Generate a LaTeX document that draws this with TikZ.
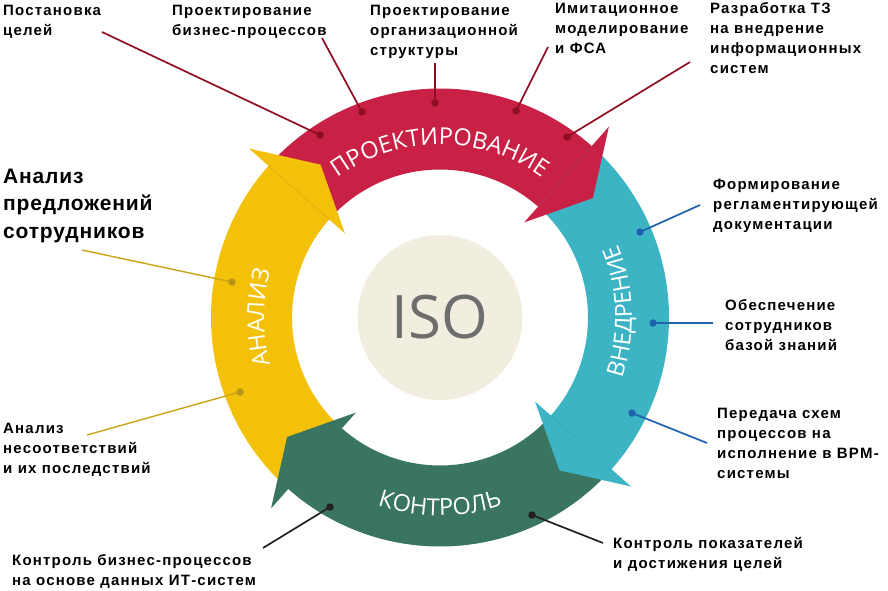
\documentclass[tikz,border=0pt]{standalone}
\usepackage{fontspec}
\setmainfont{Liberation Sans}
\newfontfamily\lblfont[LetterSpace=8]{Liberation Sans}
\newfontfamily\bigfont[LetterSpace=4]{Liberation Sans}
\newfontfamily\bandfont{Open Sans}
\usetikzlibrary{decorations.text}
\definecolor{cRed}{HTML}{C92146}
\definecolor{cTeal}{HTML}{3CB4C4}
\definecolor{cGrn}{HTML}{3A7562}
\definecolor{cYel}{HTML}{F4C10A}
\definecolor{isoBg}{HTML}{F2EEDF}
\definecolor{isoTx}{HTML}{6E6E6E}
\definecolor{lnRed}{HTML}{8F0F22}
\definecolor{lnBlue}{HTML}{1F63AE}
\definecolor{lnBlk}{HTML}{222222}
\definecolor{lnYel}{HTML}{C9A516}
\definecolor{dtYel}{HTML}{B8951A}
\newcommand{\mlines}[1]{\begin{tabular}[t]{@{}l@{}}#1\end{tabular}}
\begin{document}
\begin{tikzpicture}[x=1pt,y=1pt,
  lbl/.style={anchor=base west, inner sep=0pt, text=black, font=\lblfont\bfseries\fontsize{15}{20}\selectfont},
  biglbl/.style={anchor=base west, inner sep=0pt, text=black, font=\bigfont\bfseries\fontsize{21}{27.5}\selectfont},
  dotst/.style={circle, inner sep=0pt, minimum size=7.5pt},
  conn/.style={line width=1.7pt},
  bandtxt/.style={decorate, decoration={text along path, text align=center, text={|\bandfont\fontsize{23.5}{24}\selectfont\color{white}|#1}}}
]
\useasboundingbox (0,0) rectangle (888,-591);
\fill[white] (0,0) rectangle (888,-591);

% ring
\begin{scope}[shift={(440,-317.5)}]
  \foreach \T/\B/\c in {228.5/138.5/cYel, 138.5/48.5/cRed, 48.5/-41.5/cTeal, -41.5/-131.5/cGrn}{
    \fill[\c] ({\T}:229) arc[start angle=\T, end angle={\B-2}, radius=229]
      -- ({\B-2}:148) arc[start angle={\B-2}, end angle=\T, radius=148] -- cycle;
  }
  \foreach \B/\c in {138.5/cYel, 48.5/cRed, -41.5/cTeal, -131.5/cGrn}{
    \fill[\c] ({\B}:255) -- ({\B-10.5}:194) -- ({\B}:127) -- cycle;
  }
  \path[bandtxt=ПРОЕКТИРОВАНИЕ] (140:173) arc[start angle=140, end angle=40, radius=173];
  \path[bandtxt=ВНЕДРЕНИЕ] (-48:192) arc[start angle=-48, end angle=52, radius=192];
  \path[bandtxt=КОНТРОЛЬ] (-140:198) arc[start angle=-140, end angle=-40, radius=198];
  \path[bandtxt=АНАЛИЗ] (230:176) arc[start angle=230, end angle=130, radius=176];
\end{scope}

% centre
\node[circle, fill=isoBg, minimum size=165pt, inner sep=0pt, text=isoTx,
      font=\bandfont\fontsize{60}{60}\selectfont] (iso) at (440,-317.5) {ISO};

% labels
\node[lbl] (lab1) at (3,-16) {\mlines{Постановка\\целей}};
\node[lbl] (lab2) at (172,-16) {\mlines{Проектирование\\бизнес-процессов}};
\node[lbl] (lab3) at (370,-16) {\mlines{Проектирование\\организационной\\структуры}};
\node[lbl] (lab4) at (555,-14) {\mlines{Имитационное\\моделирование\\и ФСА}};
\node[lbl] (lab5) at (710,-14) {\mlines{Разработка ТЗ\\на внедрение\\информационных\\систем}};
\node[lbl] (lab6) at (713,-189) {\mlines{Формирование\\регламентирующей\\документации}};
\node[lbl] (lab7) at (725,-310) {\mlines{Обеспечение\\сотрудников\\базой знаний}};
\node[lbl] (lab8) at (717,-418) {\mlines{Передача схем\\процессов на\\исполнение в BPM-\\системы}};
\node[lbl] (lab9) at (613,-548) {\mlines{Контроль показателей\\и достижения целей}};
\node[lbl] (lab10) at (12,-565) {\mlines{Контроль бизнес-процессов\\на основе данных ИТ-систем}};
\node[lbl] (lab11) at (3,-433) {\mlines{Анализ\\несоответствий\\и их последствий}};
\node[biglbl] (lab12) at (3,-183) {\mlines{Анализ\\предложений\\сотрудников}};

% connector ends at labels
\coordinate (e1) at (102,-32);
\coordinate (e2) at (322,-38);
\coordinate (e3) at (435,-63);
\coordinate (e4) at (548,-47);
\coordinate (e5) at (690,-62);
\coordinate (e6) at (700,-205);
\coordinate (e7) at (713,-323);
\coordinate (e8) at (707,-443);
\coordinate (e9) at (603,-543);
\coordinate (e10) at (263,-548);
\coordinate (e11) at (87,-435);
\coordinate (e12) at (82,-250);
% dot positions
\coordinate (p1) at (320,-135);
\coordinate (p2) at (362,-112);
\coordinate (p3) at (435,-103);
\coordinate (p4) at (516,-111);
\coordinate (p5) at (567,-137);
\coordinate (p6) at (640,-232);
\coordinate (p7) at (653,-323);
\coordinate (p8) at (632,-413);
\coordinate (p9) at (532,-515);
\coordinate (p10) at (330,-507);
\coordinate (p11) at (240,-392);
\coordinate (p12) at (232,-282);

\foreach \i in {1,...,5}{\draw[conn, lnRed] (e\i) -- (p\i);}
\foreach \i in {6,7,8}{\draw[conn, lnBlue] (e\i) -- (p\i);}
\foreach \i in {9,10}{\draw[conn, lnBlk] (e\i) -- (p\i);}
\foreach \i in {11,12}{\draw[conn, line width=1.4pt, lnYel] (e\i) -- (p\i);}

\foreach \i in {1,...,5}{\node[dotst, fill=lnRed] (d\i) at (p\i) {};}
\foreach \i in {6,7,8}{\node[dotst, fill=lnBlue] (d\i) at (p\i) {};}
\foreach \i in {9,10}{\node[dotst, fill=lnBlk] (d\i) at (p\i) {};}
\foreach \i in {11,12}{\node[dotst, fill=dtYel] (d\i) at (p\i) {};}
\end{tikzpicture}
\end{document}
